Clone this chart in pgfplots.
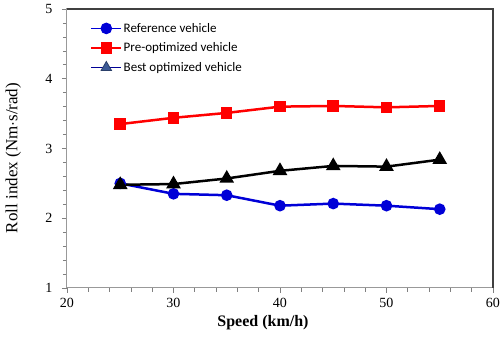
\documentclass[border=0pt]{standalone}
\usepackage{pgfplots}
\pgfplotsset{compat=1.18}
\usepackage{fontspec}
\setmainfont{Liberation Serif}
\newfontfamily\legfont{Carlito}
\definecolor{refblue}{RGB}{0,0,215}
\definecolor{tri}{RGB}{60,90,150}
\begin{document}
\begin{tikzpicture}
\begin{axis}[
  scale only axis, width=426pt, height=279pt,
  xmin=20, xmax=60, ymin=1, ymax=5,
  xtick={20,30,...,60}, ytick={1,2,...,5},
  minor x tick num=4, minor y tick num=4,
  tick align=outside, major tick length=5pt, minor tick length=4pt,
  xtick pos=bottom, ytick pos=left,
  tick style={gray, line width=0.6pt},
  axis line style={gray!80, line width=1pt},
  /pgf/number format/assume math mode=true,
  tick label style={font=\fontsize{14}{16}\selectfont},
  xticklabel style={yshift=-2pt},
  yticklabel style={xshift=-6pt},
  xlabel={\textbf{Speed (km/h)}},
  ylabel={Roll index (Nm$\cdot$s/rad)},
  xlabel style={font=\fontsize{16}{18}\selectfont, at={(axis description cs:0.46,-0.125)}, anchor=center},
  ylabel style={font=\fontsize{17}{19}\selectfont, at={(axis description cs:-0.126,0.466)}, anchor=center},
  legend style={draw=none, fill=none, at={(axis cs:21.9,4.85)}, anchor=north west,
    font=\legfont\fontsize{13}{15}\selectfont, row sep=6pt,
    nodes={inner sep=1.5pt}},
  legend cell align=left,
  legend image code/.code={
    \draw[#1, line width=1.8pt] (0cm,0cm) -- (30pt,0cm);
    \draw[#1, only marks] plot coordinates {(15pt,0cm)};
  },
  clip=false,
]
\draw[black!75, line width=1.2pt] (rel axis cs:0,1) -- (rel axis cs:1,1) -- (rel axis cs:1,0);
\addplot[refblue, line width=2.5pt, mark=*, mark size=4.5pt, mark options={solid}] coordinates {
 (25,2.50) (30,2.35) (35,2.33) (40,2.18) (45,2.21) (50,2.18) (55,2.13)};
\addlegendentry{Reference vehicle}
\addplot[red, line width=2.5pt, mark=square*, mark size=4.5pt] coordinates {
 (25,3.35) (30,3.44) (35,3.51) (40,3.60) (45,3.61) (50,3.59) (55,3.61)};
\addlegendentry{Pre-optimized vehicle}
\addplot[black, line width=2.5pt, mark=triangle*, mark size=6pt, forget plot] coordinates {
 (25,2.48) (30,2.49) (35,2.57) (40,2.68) (45,2.75) (50,2.74) (55,2.84)};
\addlegendimage{refblue!70!black, line width=1.5pt, mark=triangle*, mark size=6pt, mark options={fill=tri, draw=tri!70!black, line width=0.8pt}}
\addlegendentry{Best optimized vehicle}
\end{axis}
\pgfresetboundingbox
\path (-67pt,-56pt) rectangle (437pt,288pt);
\end{tikzpicture}
\end{document}
